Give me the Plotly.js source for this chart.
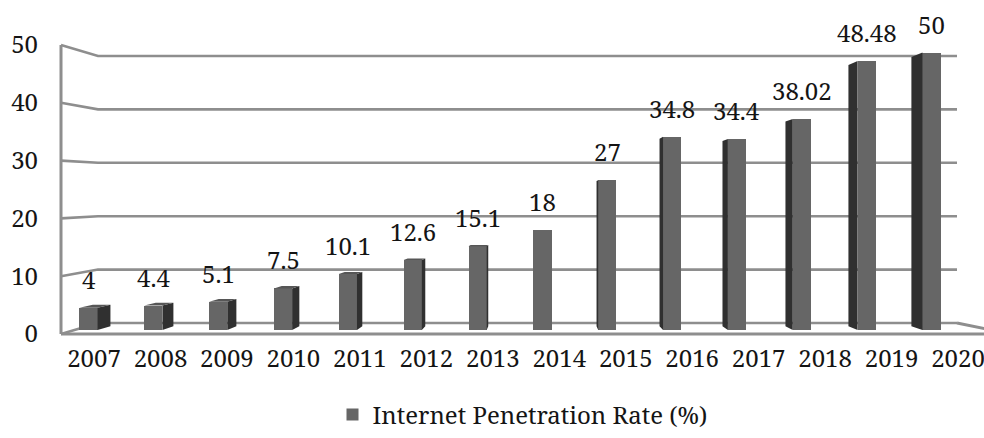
<!DOCTYPE html>
<html>
<head>
<meta charset="utf-8">
<script src="https://cdn.plot.ly/plotly-3.0.1.min.js"></script>
<style>
  html, body { margin: 0; padding: 0; background: #ffffff; }
  #chart { width: 984px; height: 438px; }
</style>
</head>
<body>
<div id="chart"></div>
<script>
// Internet penetration rate by year
const years = [2007, 2008, 2009, 2010, 2011, 2012, 2013, 2014, 2015, 2016, 2017, 2018, 2019, 2020];
const rates = [4, 4.4, 5.1, 7.5, 10.1, 12.6, 15.1, 18, 27, 34.8, 34.4, 38.02, 48.48, 50];
const yTicks = [0, 10, 20, 30, 40, 50];
const seriesName = 'Internet Penetration Rate (%)';

// ---- frame geometry (pixels) ----
const W = 984, H = 438;
const M = { l: 61, r: 0, t: 10, b: 104 };
const PW = W - M.l - M.r;           // plot width
const PH = H - M.t - M.b;           // plot height
const plotBottom = H - M.b;

// bar axis (mid-depth of the 3D box)
const xBarRange = [2006.576, 2020.809];
const yBarRange = [-0.721, 57.66];
// front edge axis (category labels / value labels on the left wall)
const xFrontRange = [2006.503, 2020.391];
const yFrontRange = [0, 56.06];
// back wall axis (gridlines)
const yBackRange = [-2.06, 58.61];

const pxPerX = PW / (xBarRange[1] - xBarRange[0]);
const pxPerY = PH / (yBarRange[1] - yBarRange[0]);

// perspective: receding points move towards a vanishing point
const VP = { x: 541, y: 205 };
const depth = 0.029;

function barToPx(x, y) {
  return [M.l + (x - xBarRange[0]) * pxPerX, plotBottom - (y - yBarRange[0]) * pxPerY];
}
function pxToBar(px, py) {
  return [xBarRange[0] + (px - M.l) / pxPerX, yBarRange[0] + (plotBottom - py) / pxPerY];
}
function recede(x, y) {
  const p = barToPx(x, y);
  const q = [p[0] + depth * (VP.x - p[0]), p[1] + depth * (VP.y - p[1])];
  return pxToBar(q[0], q[1]);
}

const barWidth = 0.28;
const hw = barWidth / 2;

// side and top faces of each column
const sideX = [], sideY = [], topX = [], topY = [];
years.forEach((yr, i) => {
  const v = rates[i];
  const cpx = barToPx(yr, 0)[0];
  if (Math.abs(cpx - VP.x) > 2) {
    const e = cpx < VP.x ? yr + hw : yr - hw;
    const b0 = recede(e, 0), b1 = recede(e, v);
    sideX.push(e, b0[0], b1[0], e, e, null);
    sideY.push(0, b0[1], b1[1], v, 0, null);
  }
  const topPy = barToPx(yr, v)[1];
  if (topPy > VP.y) {
    const l = recede(yr - hw, v), r = recede(yr + hw, v);
    topX.push(yr - hw, yr + hw, r[0], l[0], yr - hw, null);
    topY.push(v, v, r[1], l[1], v, null);
  }
});

const frontColor = '#666666';
const sideColor = '#303030';
const topColor = '#565656';
const wallColor = '#8e8e8e';
const font = '"Noto Serif", "Liberation Serif", serif';
const fontSize = 24;
const textColor = '#141414';

const traces = [
  {
    type: 'bar', x: years, y: rates, name: seriesName,
    xaxis: 'x', yaxis: 'y', width: barWidth,
    marker: { color: frontColor, line: { width: 0 } },
    hoverinfo: 'skip', showlegend: true
  },
  {
    type: 'scatter', x: sideX, y: sideY, mode: 'lines', fill: 'toself',
    fillcolor: sideColor, line: { width: 0, color: sideColor },
    xaxis: 'x', yaxis: 'y', hoverinfo: 'skip', showlegend: false
  },
  {
    type: 'scatter', x: topX, y: topY, mode: 'lines', fill: 'toself',
    fillcolor: topColor, line: { width: 0, color: topColor },
    xaxis: 'x', yaxis: 'y', hoverinfo: 'skip', showlegend: false
  },
  {
    // carries the front-edge axes
    type: 'scatter', x: years, y: years.map(() => 0), mode: 'markers',
    marker: { opacity: 0 }, xaxis: 'x2', yaxis: 'y2',
    hoverinfo: 'skip', showlegend: false
  }
];

// wall and floor outlines in paper coordinates
const px2paperX = px => (px - M.l) / PW;
const frontPaperY = v => (v - yFrontRange[0]) / (yFrontRange[1] - yFrontRange[0]);
const backPaperY = v => (v - yBackRange[0]) / (yBackRange[1] - yBackRange[0]);
const backLeft = px2paperX(98), backRight = px2paperX(957);

const shapes = [];
const lineStyle = { color: wallColor, width: 2.6 };
yTicks.forEach(v => {
  shapes.push({
    type: 'path', xref: 'paper', yref: 'paper', layer: 'below',
    path: `M 0,${frontPaperY(v)} L ${backLeft},${backPaperY(v)} L ${backRight},${backPaperY(v)}`,
    line: lineStyle
  });
});
// left wall edge
shapes.push({
  type: 'line', xref: 'paper', yref: 'paper', layer: 'below',
  x0: 0, x1: 0, y0: frontPaperY(yTicks[0]), y1: frontPaperY(yTicks[yTicks.length - 1]),
  line: { color: wallColor, width: 3 }
});
// floor: front edge and right side
shapes.push({
  type: 'path', xref: 'paper', yref: 'paper', layer: 'below',
  path: `M 0,${frontPaperY(0)} L 1.03,${frontPaperY(0)} L ${backRight},${backPaperY(0)}`,
  line: { color: wallColor, width: 3 }
});

// value labels above each column
const annotations = years.map((yr, i) => ({
  x: yr, y: rates[i], xref: 'x', yref: 'y',
  text: String(rates[i]), showarrow: false,
  yanchor: 'bottom', yshift: 10,
  font: { family: font, size: fontSize, color: textColor }
}));

const layout = {
  width: W, height: H,
  margin: M,
  paper_bgcolor: '#ffffff', plot_bgcolor: 'rgba(0,0,0,0)',
  font: { family: font, size: fontSize, color: textColor },
  showlegend: true,
  legend: {
    orientation: 'h', x: 0.5, xanchor: 'center', y: -0.25, yanchor: 'middle',
    font: { family: font, size: fontSize, color: textColor },
    itemwidth: 30, bgcolor: 'rgba(0,0,0,0)'
  },
  xaxis: {
    range: xBarRange, showticklabels: false, showgrid: false, zeroline: false,
    showline: false, ticks: '', fixedrange: true
  },
  yaxis: {
    range: yBarRange, showticklabels: false, showgrid: false, zeroline: false,
    showline: false, ticks: '', fixedrange: true
  },
  xaxis2: {
    overlaying: 'x', anchor: 'y2', side: 'bottom', range: xFrontRange,
    tickmode: 'array', tickvals: years, ticktext: years.map(String),
    showgrid: false, zeroline: false, showline: false, ticks: '',
    ticklabelstandoff: 8, ticklabeloverflow: 'allow',
    tickfont: { family: font, size: fontSize, color: textColor }, fixedrange: true
  },
  yaxis2: {
    overlaying: 'y', anchor: 'x2', side: 'left', range: yFrontRange,
    tickmode: 'array', tickvals: yTicks,
    showgrid: false, zeroline: false, showline: false, ticks: '',
    ticklabelstandoff: 22,
    tickfont: { family: font, size: fontSize, color: textColor }, fixedrange: true
  },
  bargap: 0,
  shapes: shapes,
  annotations: annotations
};

Plotly.newPlot('chart', traces, layout, { displayModeBar: false, staticPlot: true });
</script>
</body>
</html>
